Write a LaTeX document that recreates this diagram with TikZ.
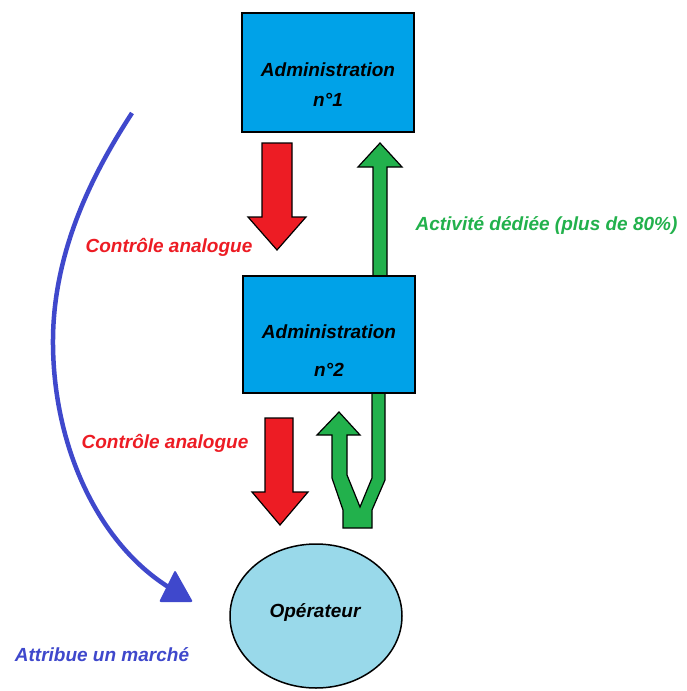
\documentclass[tikz,border=0pt]{standalone}
\usepackage{fontspec}
\setmainfont{Liberation Sans}
\usetikzlibrary{shapes.geometric}
\definecolor{boxblue}{RGB}{0,162,232}
\definecolor{opblue}{RGB}{153,217,234}
\definecolor{ctrlred}{RGB}{237,28,36}
\definecolor{actgreen}{RGB}{34,177,76}
\definecolor{arcblue}{RGB}{63,72,204}
\begin{document}
\begin{tikzpicture}[x=1pt,y=-1pt,
  lbl/.style={font=\fontsize{19}{23}\selectfont\bfseries\itshape, inner sep=0pt},
  adminbox/.style={draw=black, line width=1.5pt, fill=boxblue, minimum width=172pt, inner sep=0pt},
  opnode/.style={draw=black, line width=1.5pt, fill=opblue, ellipse, minimum width=172pt, minimum height=144pt, inner sep=0pt},
  blockarrow/.style={draw=black, line width=1.2pt, line join=miter},
]
% canvas
\fill[white] (0,0) rectangle (686,691);
\useasboundingbox (0,0) rectangle (686,691);

% green arrows (drawn first so the boxes cover their ends)
\filldraw[blockarrow, fill=actgreen]
  (373,276) -- (373,167) -- (358,167) -- (380,143) -- (402,167) -- (387,167) -- (387,276) -- cycle;
\filldraw[blockarrow, fill=actgreen]
  (339,412) -- (360,435) -- (347,435) -- (347,475) -- (360,507) -- (372,478) -- (372,393)
  -- (385,393) -- (385,480) -- (372,510) -- (372,528) -- (343,528) -- (343,510)
  -- (332,478) -- (332,435) -- (317,435) -- cycle;

% administrations and operator
\node[adminbox, minimum height=119pt] (admin1) at (328,72.5) {};
\node[adminbox, minimum height=117pt] (admin2) at (329,334.5) {};
\node[opnode] (oper) at (316,616) {};

\node[lbl] (admin1name) at (328,70) {Administration};
\node[lbl] (admin1num) at (328,100) {n°1};
\node[lbl] (admin2name) at (329,332) {Administration};
\node[lbl] (admin2num) at (329,370) {n°2};
\node[lbl] (opname) at (315,612) {Opérateur};

% red control arrows
\filldraw[blockarrow, fill=ctrlred]
  (262,143) -- (292,143) -- (292,217) -- (306,217) -- (277,250) -- (248,217) -- (262,217) -- cycle;
\filldraw[blockarrow, fill=ctrlred]
  (265,418) -- (293,418) -- (293,492) -- (308,492) -- (280,525) -- (252,492) -- (265,492) -- cycle;

% labels
\node[lbl, text=ctrlred] (ctrl1) at (169,247) {Contrôle analogue};
\node[lbl, text=ctrlred] (ctrl2) at (165,443) {Contrôle analogue};
\node[lbl, text=actgreen] (activ) at (546.5,225) {Activité dédiée (plus de 80\%)};
\node[lbl, text=arcblue] (market) at (102,655) {Attribue un marché};

% market award arc
\coordinate (arcstart) at (132,113);
\coordinate (arcend) at (170,588);
\draw[arcblue, line width=4.5pt] (arcstart) .. controls (95,170) and (52,250) .. (53,345)
  .. controls (54,450) and (100,545) .. (arcend);
\fill[arcblue, rounded corners=2pt] (175,570) -- (193,602) -- (159,602) -- cycle;
\end{tikzpicture}
\end{document}
